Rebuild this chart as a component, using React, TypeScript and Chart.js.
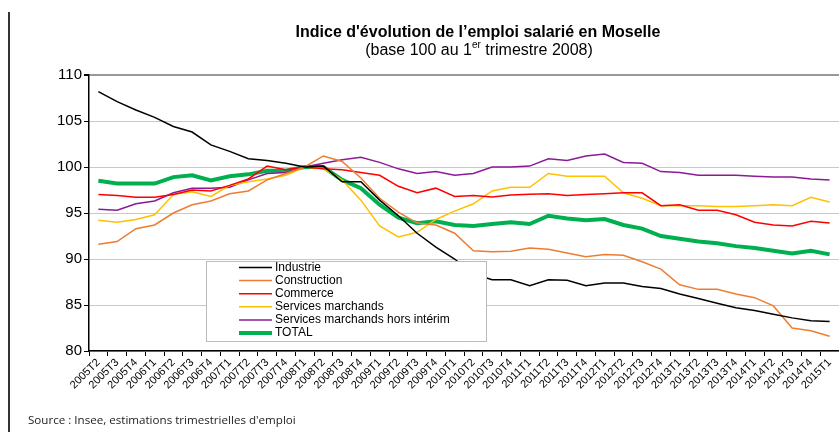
import React, { useEffect, useRef } from "react";
import { Chart, registerables } from "chart.js";

Chart.register(...registerables);

const categories = [
  "2005T2", "2005T3", "2005T4",
  "2006T1", "2006T2", "2006T3", "2006T4",
  "2007T1", "2007T2", "2007T3", "2007T4",
  "2008T1", "2008T2", "2008T3", "2008T4",
  "2009T1", "2009T2", "2009T3", "2009T4",
  "2010T1", "2010T2", "2010T3", "2010T4",
  "2011T1", "2011T2", "2011T3", "2011T4",
  "2012T1", "2012T2", "2012T3", "2012T4",
  "2013T1", "2013T2", "2013T3", "2013T4",
  "2014T1", "2014T2", "2014T3", "2014T4",
  "2015T1",
];

const industrie = [
  108.2, 107.1, 106.2, 105.4, 104.4, 103.8, 102.4, 101.7, 100.9, 100.7, 100.4,
  100.0, 100.1, 98.4, 98.4, 96.4, 94.7, 92.8, 91.3, 90.0,
  88.4, 87.75, 87.75, 87.1, 87.75, 87.7, 87.1, 87.4, 87.4, 87.0,
  86.8, 86.2, 85.7, 85.2, 84.7, 84.4, 84.0, 83.6, 83.3, 83.2,
];

const construction = [
  91.6, 91.9, 93.3, 93.7, 95.0, 95.9, 96.3, 97.1, 97.4, 98.6, 99.3,
  100.0, 101.2, 100.6, 98.8, 96.6, 95.1, 93.9, 93.7, 92.8,
  90.9, 90.8, 90.85, 91.2, 91.05, 90.65, 90.25, 90.5, 90.4, 89.7,
  88.9, 87.2, 86.7, 86.7, 86.2, 85.8, 84.9, 82.5, 82.2, 81.6,
];

const commerce = [
  97.0, 96.9, 96.7, 96.7, 97.0, 97.5, 97.4, 98.0, 98.7, 100.1, 99.7,
  100.0, 99.8, 99.7, 99.4, 99.1, 97.9, 97.2, 97.7, 96.8,
  96.9, 96.75, 96.95, 97.05, 97.1, 96.9, 97.0, 97.1, 97.2, 97.2,
  95.8, 95.9, 95.3, 95.3, 94.8, 94.0, 93.7, 93.6, 94.1, 93.9,
];

const servicesMarchands = [
  94.2, 94.0, 94.3, 94.8, 97.0, 97.3, 96.8, 98.0, 98.4, 98.7, 99.1,
  100.0, 99.8, 98.6, 96.4, 93.6, 92.4, 92.9, 94.3, 95.2,
  96.0, 97.4, 97.8, 97.8, 99.3, 99.0, 99.0, 99.0, 97.2, 96.6,
  95.8, 95.8, 95.8, 95.7, 95.7, 95.8, 95.9, 95.8, 96.7, 96.2,
];

const horsInterim = [
  95.4, 95.3, 96.0, 96.3, 97.2, 97.7, 97.7, 97.8, 98.6, 99.3, 99.4,
  100.0, 100.4, 100.8, 101.05, 100.5, 99.8, 99.3, 99.5, 99.1,
  99.3, 100.0, 100.0, 100.1, 100.9, 100.7, 101.2, 101.4, 100.5, 100.4,
  99.5, 99.4, 99.1, 99.1, 99.1, 99.0, 98.9, 98.9, 98.7, 98.6,
];

const total = [
  98.5, 98.2, 98.2, 98.2, 98.9, 99.1, 98.55, 99.0, 99.2, 99.6, 99.6,
  100.0, 100.0, 98.6, 97.7, 95.9, 94.5, 93.9, 94.1, 93.7,
  93.6, 93.8, 94.0, 93.8, 94.7, 94.4, 94.2, 94.35, 93.7, 93.3,
  92.5, 92.2, 91.9, 91.7, 91.4, 91.2, 90.9, 90.6, 90.9, 90.5,
];

const yTicks = [80, 85, 90, 95, 100, 105, 110];

const seriesLabels = [
  "Industrie",
  "Construction",
  "Commerce",
  "Services marchands",
  "Services marchands hors intérim",
  "TOTAL",
];

const seriesColors = ["#000000", "#ED7D31", "#FF0000", "#FFC000", "#8B1A96", "#00B050"];
const seriesWidths = [1.5, 1.5, 1.5, 1.5, 1.5, 4];

const titleText = "Indice d'évolution de l’emploi salarié en Moselle";
const subPre = "(base 100 au 1";
const subSup = "er";
const subPost = " trimestre 2008)";
const sourceText = "Source : Insee, estimations trimestrielles d'emploi";

const decorPlugin = {
  id: "decor",
  beforeDraw(chart: any) {
    const ctx = chart.ctx;
    ctx.save();
    ctx.fillStyle = "#ffffff";
    ctx.fillRect(0, 0, chart.width, chart.height);
    // left border line
    ctx.strokeStyle = "#333333";
    ctx.lineWidth = 2;
    ctx.beginPath();
    ctx.moveTo(9, 12);
    ctx.lineTo(9, chart.height);
    ctx.stroke();
    // title
    ctx.fillStyle = "#000000";
    ctx.textBaseline = "middle";
    ctx.textAlign = "center";
    ctx.font = "bold 16px 'Liberation Sans', Arial, sans-serif";
    ctx.fillText(titleText, 478, 33);
    // subtitle with superscript
    ctx.font = "16px 'Liberation Sans', Arial, sans-serif";
    const w1 = ctx.measureText(subPre).width;
    const w3 = ctx.measureText(subPost).width;
    ctx.font = "10px 'Liberation Sans', Arial, sans-serif";
    const w2 = ctx.measureText(subSup).width;
    const totalW = w1 + w2 + w3;
    let x = 479 - totalW / 2;
    ctx.textAlign = "left";
    ctx.font = "16px 'Liberation Sans', Arial, sans-serif";
    ctx.fillText(subPre, x, 51);
    x += w1;
    ctx.font = "10px 'Liberation Sans', Arial, sans-serif";
    ctx.fillText(subSup, x, 45);
    x += w2;
    ctx.font = "16px 'Liberation Sans', Arial, sans-serif";
    ctx.fillText(subPost, x, 51);
    // source
    ctx.font = "11.6px 'Open Sans', 'Noto Sans', sans-serif";
    ctx.fillStyle = "#222222";
    ctx.fillText(sourceText, 28, 421);
    ctx.restore();
  },
  afterDraw(chart: any) {
    const ctx = chart.ctx;
    ctx.save();
    const bx = 206, by = 261, bw = 280, bh = 80;
    ctx.fillStyle = "#ffffff";
    ctx.fillRect(bx, by, bw, bh);
    ctx.strokeStyle = "#BBBBBB";
    ctx.lineWidth = 1;
    ctx.strokeRect(bx + 0.5, by + 0.5, bw, bh);
    ctx.font = "12px 'Liberation Sans', Arial, sans-serif";
    ctx.textBaseline = "middle";
    ctx.textAlign = "left";
    chart.data.datasets.forEach((ds: any, i: number) => {
      const y = 267.5 + i * 13.1;
      ctx.strokeStyle = ds.borderColor;
      ctx.lineWidth = ds.borderWidth;
      ctx.beginPath();
      ctx.moveTo(239, y);
      ctx.lineTo(272, y);
      ctx.stroke();
      ctx.fillStyle = "#000000";
      ctx.fillText(ds.label, 275, y);
    });
    ctx.restore();
  },
};

export default function App() {
  const canvasRef = useRef<HTMLCanvasElement | null>(null);

  useEffect(() => {
    document.body.style.margin = "0";
    const canvas = canvasRef.current;
    if (!canvas) return;
    const values = [industrie, construction, commerce, servicesMarchands, horsInterim, total];
    const chart = new Chart(canvas, {
      type: "line",
      data: {
        labels: categories,
        datasets: values.map((v, i) => ({
          label: seriesLabels[i],
          data: v,
          borderColor: seriesColors[i],
          backgroundColor: seriesColors[i],
          borderWidth: seriesWidths[i],
          pointRadius: 0,
          tension: 0,
          fill: false,
        })),
      },
      options: {
        animation: false,
        responsive: false,
        devicePixelRatio: 1,
        layout: { padding: { top: 75, right: 0, bottom: 0, left: 0 } },
        plugins: {
          legend: { display: false },
          title: { display: false },
          tooltip: { enabled: false },
        },
        scales: {
          x: {
            type: "category",
            offset: true,
            afterFit: (scale: any) => {
              scale.height = 81;
            },
            grid: {
              offset: true,
              drawOnChartArea: false,
              drawTicks: true,
              tickLength: 5,
              tickColor: "#000000",
            },
            border: { color: "#000000", width: 1.5 },
            ticks: {
              autoSkip: false,
              minRotation: 45,
              maxRotation: 45,
              padding: 0,
              color: "#000000",
              font: { family: "'Liberation Sans', Arial, sans-serif", size: 11 },
            },
          },
          y: {
            min: 80,
            max: 110,
            afterFit: (scale: any) => {
              scale.width = 89;
            },
            afterBuildTicks: (scale: any) => {
              scale.ticks = yTicks.map((v) => ({ value: v }));
            },
            grid: {
              color: (c: any) => (c.tick && c.tick.value === 110 ? "#999999" : "#C8C8C8"),
              lineWidth: (c: any) => (c.tick && c.tick.value === 110 ? 2 : 1),
              drawTicks: true,
              tickLength: 5,
              tickColor: "#000000",
            },
            border: { color: "#000000", width: 1.5 },
            ticks: {
              padding: 2,
              color: "#000000",
              font: { family: "'Liberation Sans', Arial, sans-serif", size: 15 },
            },
          },
        },
      },
      plugins: [decorPlugin],
    });
    return () => chart.destroy();
  }, []);

  return (
    <div style={{ position: "absolute", left: 0, top: 0, width: 839, height: 432, overflow: "hidden" }}>
      <canvas ref={canvasRef} width={839} height={432} style={{ display: "block" }} />
    </div>
  );
}
